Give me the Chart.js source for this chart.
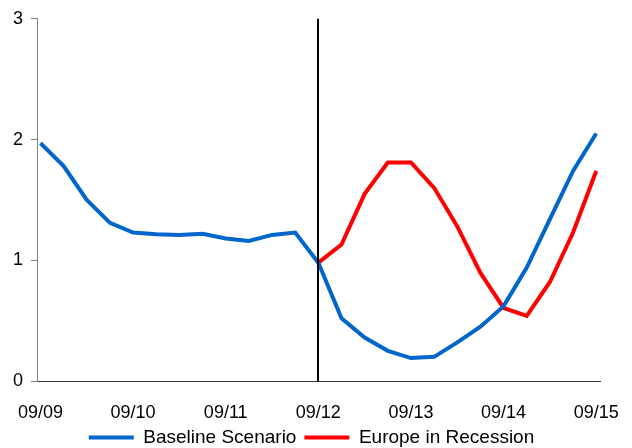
<!DOCTYPE html>
<html>
<head>
<meta charset="utf-8">
<script src="https://cdn.jsdelivr.net/npm/chart.js@4/dist/chart.umd.min.js"></script>
<style>
  html, body { margin: 0; padding: 0; background: #fff; }
  #wrap { width: 632px; height: 448px; position: relative; }
</style>
</head>
<body>
<div id="wrap"><canvas id="chart"></canvas></div>
<script>
// quarterly points, 09/09 .. 09/15
const tickLabels = ['09/09', '09/10', '09/11', '09/12', '09/13', '09/14', '09/15'];

const baseline = [
  1.97, 1.78, 1.50, 1.31, 1.23, 1.215, 1.21, 1.22, 1.18, 1.16, 1.21, 1.23,
  0.98, 0.52, 0.36, 0.25, 0.19, 0.20, 0.32, 0.45, 0.62, 0.94, 1.34, 1.74, 2.05
];

const recession = [
  null, null, null, null, null, null, null, null, null, null, null, null,
  0.98, 1.13, 1.55, 1.81, 1.81, 1.60, 1.28, 0.895, 0.605, 0.54, 0.82, 1.23, 1.74
];

const splitIndex = 12; // 09/12 marker

const toPoints = arr => arr.map((v, i) => ({ x: i, y: v }));

const FONT = { family: '"Liberation Sans", Arial, sans-serif', size: 18 };
const LEGEND_FONT = { family: '"Liberation Sans", Arial, sans-serif', size: 19 };

// black vertical line at the forecast start
const markerLine = {
  id: 'markerLine',
  afterDatasetsDraw(chart) {
    const { ctx, chartArea, scales } = chart;
    const x = Math.round(scales.x.getPixelForValue(splitIndex));
    ctx.save();
    ctx.strokeStyle = '#000';
    ctx.lineWidth = 2;
    ctx.beginPath();
    ctx.moveTo(x, chartArea.top);
    ctx.lineTo(x, chartArea.bottom);
    ctx.stroke();
    ctx.restore();
  }
};

// squeeze the legend box so it sits close under the tick labels,
// and nudge it right like the original
const legendFit = {
  id: 'legendFit',
  beforeInit(chart) {
    const fit = chart.legend.fit;
    chart.legend.fit = function () {
      fit.call(this);
      this.height = 28;
    };
  },
  afterLayout(chart) {
    chart.legend.left += 11;
    chart.legend.right += 11;
  }
};

new Chart(document.getElementById('chart'), {
  type: 'line',
  data: {
    datasets: [
      {
        label: 'Baseline Scenario',
        data: toPoints(baseline),
        borderColor: '#0066CC',
        backgroundColor: '#0066CC',
        borderWidth: 4,
        pointRadius: 0,
        tension: 0,
      },
      {
        label: 'Europe in Recession',
        data: toPoints(recession),
        borderColor: '#FF0000',
        backgroundColor: '#FF0000',
        borderWidth: 4,
        pointRadius: 0,
        tension: 0,
        spanGaps: false,
      },
    ],
  },
  options: {
    responsive: true,
    maintainAspectRatio: false,
    animation: false,
    layout: { padding: { top: 10, right: 31, left: 0, bottom: 0 } },
    plugins: {
      legend: {
        position: 'bottom',
        labels: {
          color: '#000',
          font: LEGEND_FONT,
          usePointStyle: true,
          pointStyle: 'line',
          pointStyleWidth: 45,
          boxHeight: 4,
          padding: 8,
        },
      },
      tooltip: { enabled: false },
    },
    scales: {
      x: {
        type: 'linear',
        min: -0.15,
        max: 24.2,
        afterBuildTicks(scale) {
          scale.ticks = tickLabels.map((_, i) => ({ value: i * 4 }));
        },
        afterFit(scale) { scale.height = 39; },
        ticks: {
          color: '#000',
          font: FONT,
          padding: 13,
          maxRotation: 0,
          autoSkip: false,
          callback: (v) => tickLabels[v / 4],
        },
        grid: { display: false },
        border: { display: true, color: '#333', width: 1 },
      },
      y: {
        min: 0,
        max: 3,
        afterFit(scale) { scale.width = 37; },
        ticks: {
          stepSize: 1,
          color: '#000',
          font: FONT,
          padding: 8,
        },
        grid: {
          drawOnChartArea: false,
          drawTicks: true,
          tickLength: 6,
          color: '#808080',
        },
        border: { display: true, color: '#808080', width: 1 },
      },
    },
  },
  plugins: [markerLine, legendFit],
});
</script>
</body>
</html>
